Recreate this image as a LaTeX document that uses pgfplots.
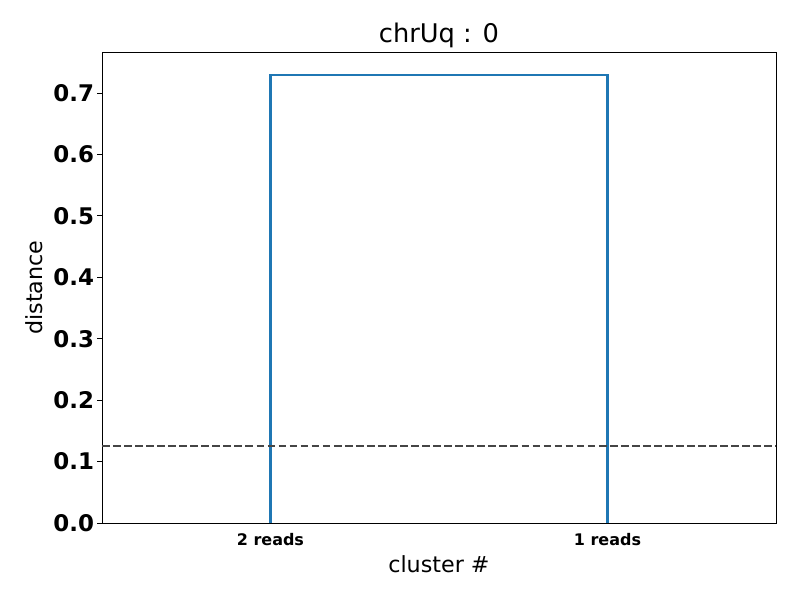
\documentclass[border=0pt]{standalone}
\usepackage{pgfplots}
\pgfplotsset{compat=1.18}
\usepackage{fontspec}
\setmainfont{DejaVu Sans}
\definecolor{c0}{HTML}{1F77B4}
\begin{document}
\begin{tikzpicture}
\begin{axis}[
  scale only axis,
  width=485.3pt, height=339.1pt,
  at={(73.4pt,55.4pt)}, anchor=south west,
  xmin=0, xmax=20, ymin=0, ymax=0.7667,
  xtick={5,15}, xticklabels={2 reads,1 reads},
  ytick={0,0.1,0.2,0.3,0.4,0.5,0.6,0.7},
  /pgf/number format/assume math mode=true,
  yticklabel style={font=\bfseries\fontsize{16.5}{16.5}\selectfont,/pgf/number format/fixed,/pgf/number format/fixed zerofill,/pgf/number format/precision=1, anchor=east, inner sep=0pt, xshift=-2pt},
  xticklabel style={font=\bfseries\fontsize{11.5}{11.5}\selectfont, anchor=north, inner sep=0pt, yshift=-3.5pt},
  tick align=outside,
  xtick style={draw=none},
  ytick style={black, line width=0.6pt},
  major tick length=3.5pt,
  tick pos=left,
  axis line style={line width=0.6pt},
  title={chrUq : 0},
  title style={font=\fontsize{18.5}{18.5}\selectfont, at={(axis description cs:0.5,1.0035)}, anchor=base, inner sep=0pt},
  xlabel={cluster \#},
  ylabel={distance},
  label style={font=\fontsize{16}{16}\selectfont},
  xlabel style={at={(axis description cs:0.5,-0.068)}, anchor=north, inner sep=0pt},
  ylabel style={at={(axis description cs:-0.0875,0.5)}, anchor=south, inner sep=0pt},
  clip=false,
]
\addplot[c0, line width=2pt] coordinates {(5,0) (5,0.7293) (15,0.7293) (15,0)};
\addplot[color={rgb,1:red,0.27;green,0.27;blue,0.27}, line width=1.9pt, dash pattern=on 5.55pt off 2.4pt] coordinates {(0,0.1253) (20,0.1253)};
\end{axis}
\pgfresetboundingbox
\useasboundingbox (0,0) rectangle (576pt,432pt);
\end{tikzpicture}
\end{document}
